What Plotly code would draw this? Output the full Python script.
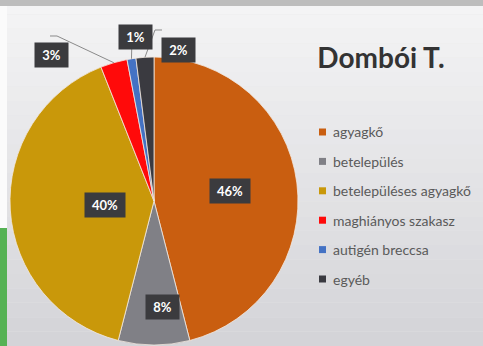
import math
import plotly.graph_objects as go

# --- data -------------------------------------------------------------------
labels = ["agyagkő", "betelepülés", "betelepüléses agyagkő",
          "maghiányos szakasz", "autigén breccsa", "egyéb"]
shares = [46, 8, 40, 3, 1, 2]
colors = ["#C95E10", "#808086", "#C9980A", "#FF0A0A", "#4472C4", "#3A3A40"]
title_text = "Dombói T."

# --- layout constants (pixels) ------------------------------------------------
W, H = 483, 346
CX, CY, R = 154, 201, 144          # pie centre and radius


def px(x):
    return x / W


def py(y):
    return 1 - y / H


def rim_point(i, frac=1.0, shift_deg=0.0):
    """Point on the radius of slice i at its mid angle (clockwise from 12 o'clock)."""
    total = sum(shares)
    start = sum(shares[:i])
    theta = math.radians(360 * (start + shares[i] / 2) / total + shift_deg)
    return CX + frac * R * math.sin(theta), CY - frac * R * math.cos(theta)


fig = go.Figure()
fig.add_trace(go.Pie(
    labels=labels,
    values=shares,
    sort=False,
    direction="clockwise",
    rotation=0,
    textinfo="none",
    hoverinfo="label+percent",
    marker=dict(colors=colors, line=dict(color="#F3E9E0", width=0.8)),
    domain=dict(x=[px(CX - R), px(CX + R)], y=[py(CY + R), py(CY - R)]),
    showlegend=False,
))

shapes = []
annotations = []

# soft vertical background gradient
top_rgb, bot_rgb = (244, 244, 245), (212, 212, 216)
bands = 24
for k in range(bands):
    t = k / (bands - 1)
    c = tuple(round(a + (b - a) * t) for a, b in zip(top_rgb, bot_rgb))
    shapes.append(dict(type="rect", xref="paper", yref="paper", layer="below",
                       x0=0, x1=1, y0=py(H * (k + 1) / bands), y1=py(H * k / bands),
                       line=dict(width=0), fillcolor="rgb(%d,%d,%d)" % c))
# frame strips
shapes.append(dict(type="rect", xref="paper", yref="paper", layer="below",
                   x0=0, x1=1, y0=py(6), y1=1, line=dict(width=0), fillcolor="#BDBDBD"))
shapes.append(dict(type="rect", xref="paper", yref="paper", layer="below",
                   x0=0, x1=px(7), y0=py(228), y1=py(6), line=dict(width=0), fillcolor="#FBFBFB"))
shapes.append(dict(type="rect", xref="paper", yref="paper", layer="below",
                   x0=0, x1=px(7), y0=0, y1=py(228), line=dict(width=0), fillcolor="#55B254"))

box_style = dict(bgcolor="#3B3B3E", borderpad=4,
                 font=dict(family="Lato", size=13, color="white", weight="bold"))


def pct(i):
    return "%d%%" % round(100 * shares[i] / sum(shares))


# labels inside the large slices: (radius fraction, angular shift)
inside = {0: (0.53, 0.0), 1: (0.83, -4.3), 2: (0.49, 0.0)}
for i, (frac, shift) in inside.items():
    x, y = rim_point(i, frac, shift)
    txt = pct(i)
    annotations.append(dict(x=px(x), y=py(y), xref="paper", yref="paper",
                            text=txt, showarrow=False, width=7 * len(txt) + 11,
                            **box_style))

# labels outside the thin slices with leader lines: box centre, line start, elbow
outside = {
    3: dict(box=(34, 42), start=(50, 36), elbow=(57, 36)),
    4: dict(box=(118, 24), start=(132, 37), elbow=None),
    5: dict(box=(178, 37), start=(162, 30), elbow=(155, 30)),
}
for i, spec in outside.items():
    ex, ey = rim_point(i, 1.0)
    pts = [spec["start"]] + ([spec["elbow"]] if spec["elbow"] else []) + [(ex, ey)]
    path = "M " + " L ".join("%f,%f" % (px(a), py(b)) for a, b in pts)
    shapes.append(dict(type="path", xref="paper", yref="paper", path=path,
                       line=dict(color="#8A8A8A", width=1), layer="above"))
    txt = pct(i)
    bx, by = spec["box"]
    annotations.append(dict(x=px(bx), y=py(by), xref="paper", yref="paper",
                            text=txt, showarrow=False, width=7 * len(txt) + 11,
                            **box_style))

# legend: coloured squares with category names
LEG_X, LEG_Y0, LEG_STEP, SQ = 319, 132, 29.4, 7
for i, (lab, col) in enumerate(zip(labels, colors)):
    yc = LEG_Y0 + i * LEG_STEP
    shapes.append(dict(type="rect", xref="paper", yref="paper", layer="above",
                       x0=px(LEG_X), x1=px(LEG_X + SQ),
                       y0=py(yc + SQ / 2), y1=py(yc - SQ / 2),
                       line=dict(width=0), fillcolor=col))
    annotations.append(dict(x=px(LEG_X + SQ + 5), y=py(yc), xref="paper", yref="paper",
                            xanchor="left", yanchor="middle", showarrow=False,
                            text=lab, font=dict(family="Lato", size=14, color="#5A5A5A")))

fig.update_layout(
    width=W, height=H,
    margin=dict(l=0, r=0, t=0, b=0),
    paper_bgcolor="#E6E6E8",
    title=dict(text=title_text, x=px(381), y=py(58), xanchor="center", yanchor="middle",
               xref="paper", yref="paper",
               font=dict(family="Lato", size=28, color="#333333", weight="bold")),
    shapes=shapes,
    annotations=annotations,
)

fig.write_html("out.html")
